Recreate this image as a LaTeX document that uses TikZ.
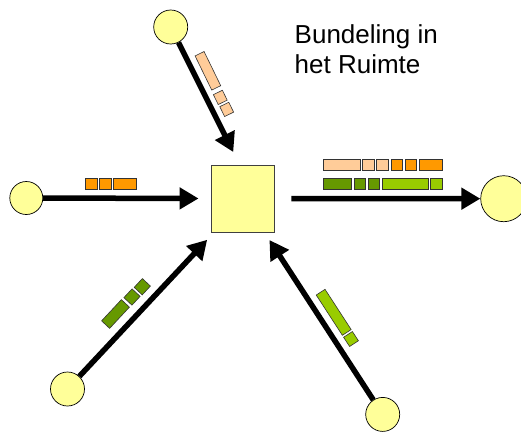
\documentclass[tikz,border=0pt]{standalone}
\usepackage{fontspec}
\setmainfont{Liberation Sans}
\usetikzlibrary{arrows.meta}
\definecolor{geel}{HTML}{FFFF99}
\definecolor{perzik}{HTML}{FFCC99}
\definecolor{oranje}{HTML}{FF9900}
\definecolor{donkergroen}{HTML}{669900}
\definecolor{lichtgroen}{HTML}{99CC00}
\tikzset{
	knoop/.style={
		circle,
		fill=geel,
		draw=black, line width=0.7pt,
		inner sep=0pt},
	verdeler/.style={
		rectangle,
		fill=geel,
		draw=black!75, line width=0.9pt,
		minimum width=63pt,
		minimum height=67pt},
	pijl/.style={line width=5.5pt, -{Triangle[length=19pt,width=21pt]}},
	pakket/.style={
		rectangle,
		draw=black!80, line width=0.6pt,
		inner sep=0pt,
		minimum height=11pt},
}
\begin{document}
\begin{tikzpicture}[x=1pt,y=-1pt]
	\useasboundingbox (0,0) rectangle (521,432);

	\node[verdeler] (bundel) at (242.5,198.5) {};
	\node[knoop, minimum size=34pt] (boven) at (170.7,27) {};
	\node[knoop, minimum size=33pt] (links) at (26.3,198) {};
	\node[knoop, minimum size=46pt] (rechts) at (503.7,198.7) {};
	\node[knoop, minimum size=34pt] (linksonder) at (67.5,389) {};
	\node[knoop, minimum size=34pt] (rechtsonder) at (382.7,414.4) {};

	\node[font=\fontsize{26}{30}\selectfont, align=left, anchor=north west, inner sep=0pt] (titel) at (294.5,24) {Bundeling in\\het Ruimte};

	% verbindingen
	\draw[pijl, shorten >=14pt] (boven) -- (bundel.95);
	\draw[pijl, shorten >=12pt] (links) -- (bundel.west);
	\draw[pijl, shorten <=17pt] (bundel.east) -- (rechts);
	\draw[pijl, shorten >=10pt] (linksonder) -- (bundel.230);
	\draw[pijl, shorten >=9pt] (rechtsonder) -- (bundel.303);

	% pakketten boven
	\node[pakket, fill=perzik, rotate=-64, minimum width=38pt, minimum height=10pt] (b1) at (207.9,70.8) {};
	\node[pakket, fill=perzik, rotate=-64, minimum width=11pt, minimum height=10pt] (b2) at (220.3,97.4) {};
	\node[pakket, fill=perzik, rotate=-64, minimum width=11pt, minimum height=10pt] (b3) at (226.7,109.4) {};

	% pakketten links
	\node[pakket, fill=oranje, minimum width=12.3pt] (l1) at (91.2,183.3) {};
	\node[pakket, fill=oranje, minimum width=12.3pt] (l2) at (105.5,183.3) {};
	\node[pakket, fill=oranje, minimum width=23.4pt] (l3) at (125,183.3) {};

	% pakketten rechts
	\node[pakket, fill=perzik, minimum width=36.7pt] (r1) at (341.7,165.2) {};
	\node[pakket, fill=perzik, minimum width=11.3pt] (r2) at (368.3,165.2) {};
	\node[pakket, fill=perzik, minimum width=11.6pt] (r3) at (382.5,165.2) {};
	\node[pakket, fill=oranje, minimum width=11.3pt] (r4) at (396.7,165.2) {};
	\node[pakket, fill=oranje, minimum width=11.7pt] (r5) at (410.8,165.2) {};
	\node[pakket, fill=oranje, minimum width=23.4pt] (r6) at (431,165.2) {};
	\node[pakket, fill=donkergroen, minimum width=28.4pt] (r7) at (337.5,183.3) {};
	\node[pakket, fill=donkergroen, minimum width=11pt] (r8) at (359.5,183.3) {};
	\node[pakket, fill=donkergroen, minimum width=11pt] (r9) at (373.8,183.3) {};
	\node[pakket, fill=lichtgroen, minimum width=45.6pt] (r10) at (405.5,183.3) {};
	\node[pakket, fill=lichtgroen, minimum width=12pt] (r11) at (436.7,183.3) {};

	% pakketten linksonder
	\node[pakket, fill=donkergroen, rotate=47, minimum width=29pt] (lo1) at (115.5,314) {};
	\node[pakket, fill=donkergroen, rotate=47, minimum width=12pt] (lo2) at (132,297) {};
	\node[pakket, fill=donkergroen, rotate=47, minimum width=12pt] (lo3) at (142.3,286.7) {};

	% pakketten rechtsonder
	\node[pakket, fill=lichtgroen, rotate=123, minimum width=48pt, minimum height=10.5pt] (ro1) at (333.7,312.3) {};
	\node[pakket, fill=lichtgroen, rotate=123, minimum width=11pt, minimum height=10.5pt] (ro2) at (351,339) {};
\end{tikzpicture}
\end{document}
